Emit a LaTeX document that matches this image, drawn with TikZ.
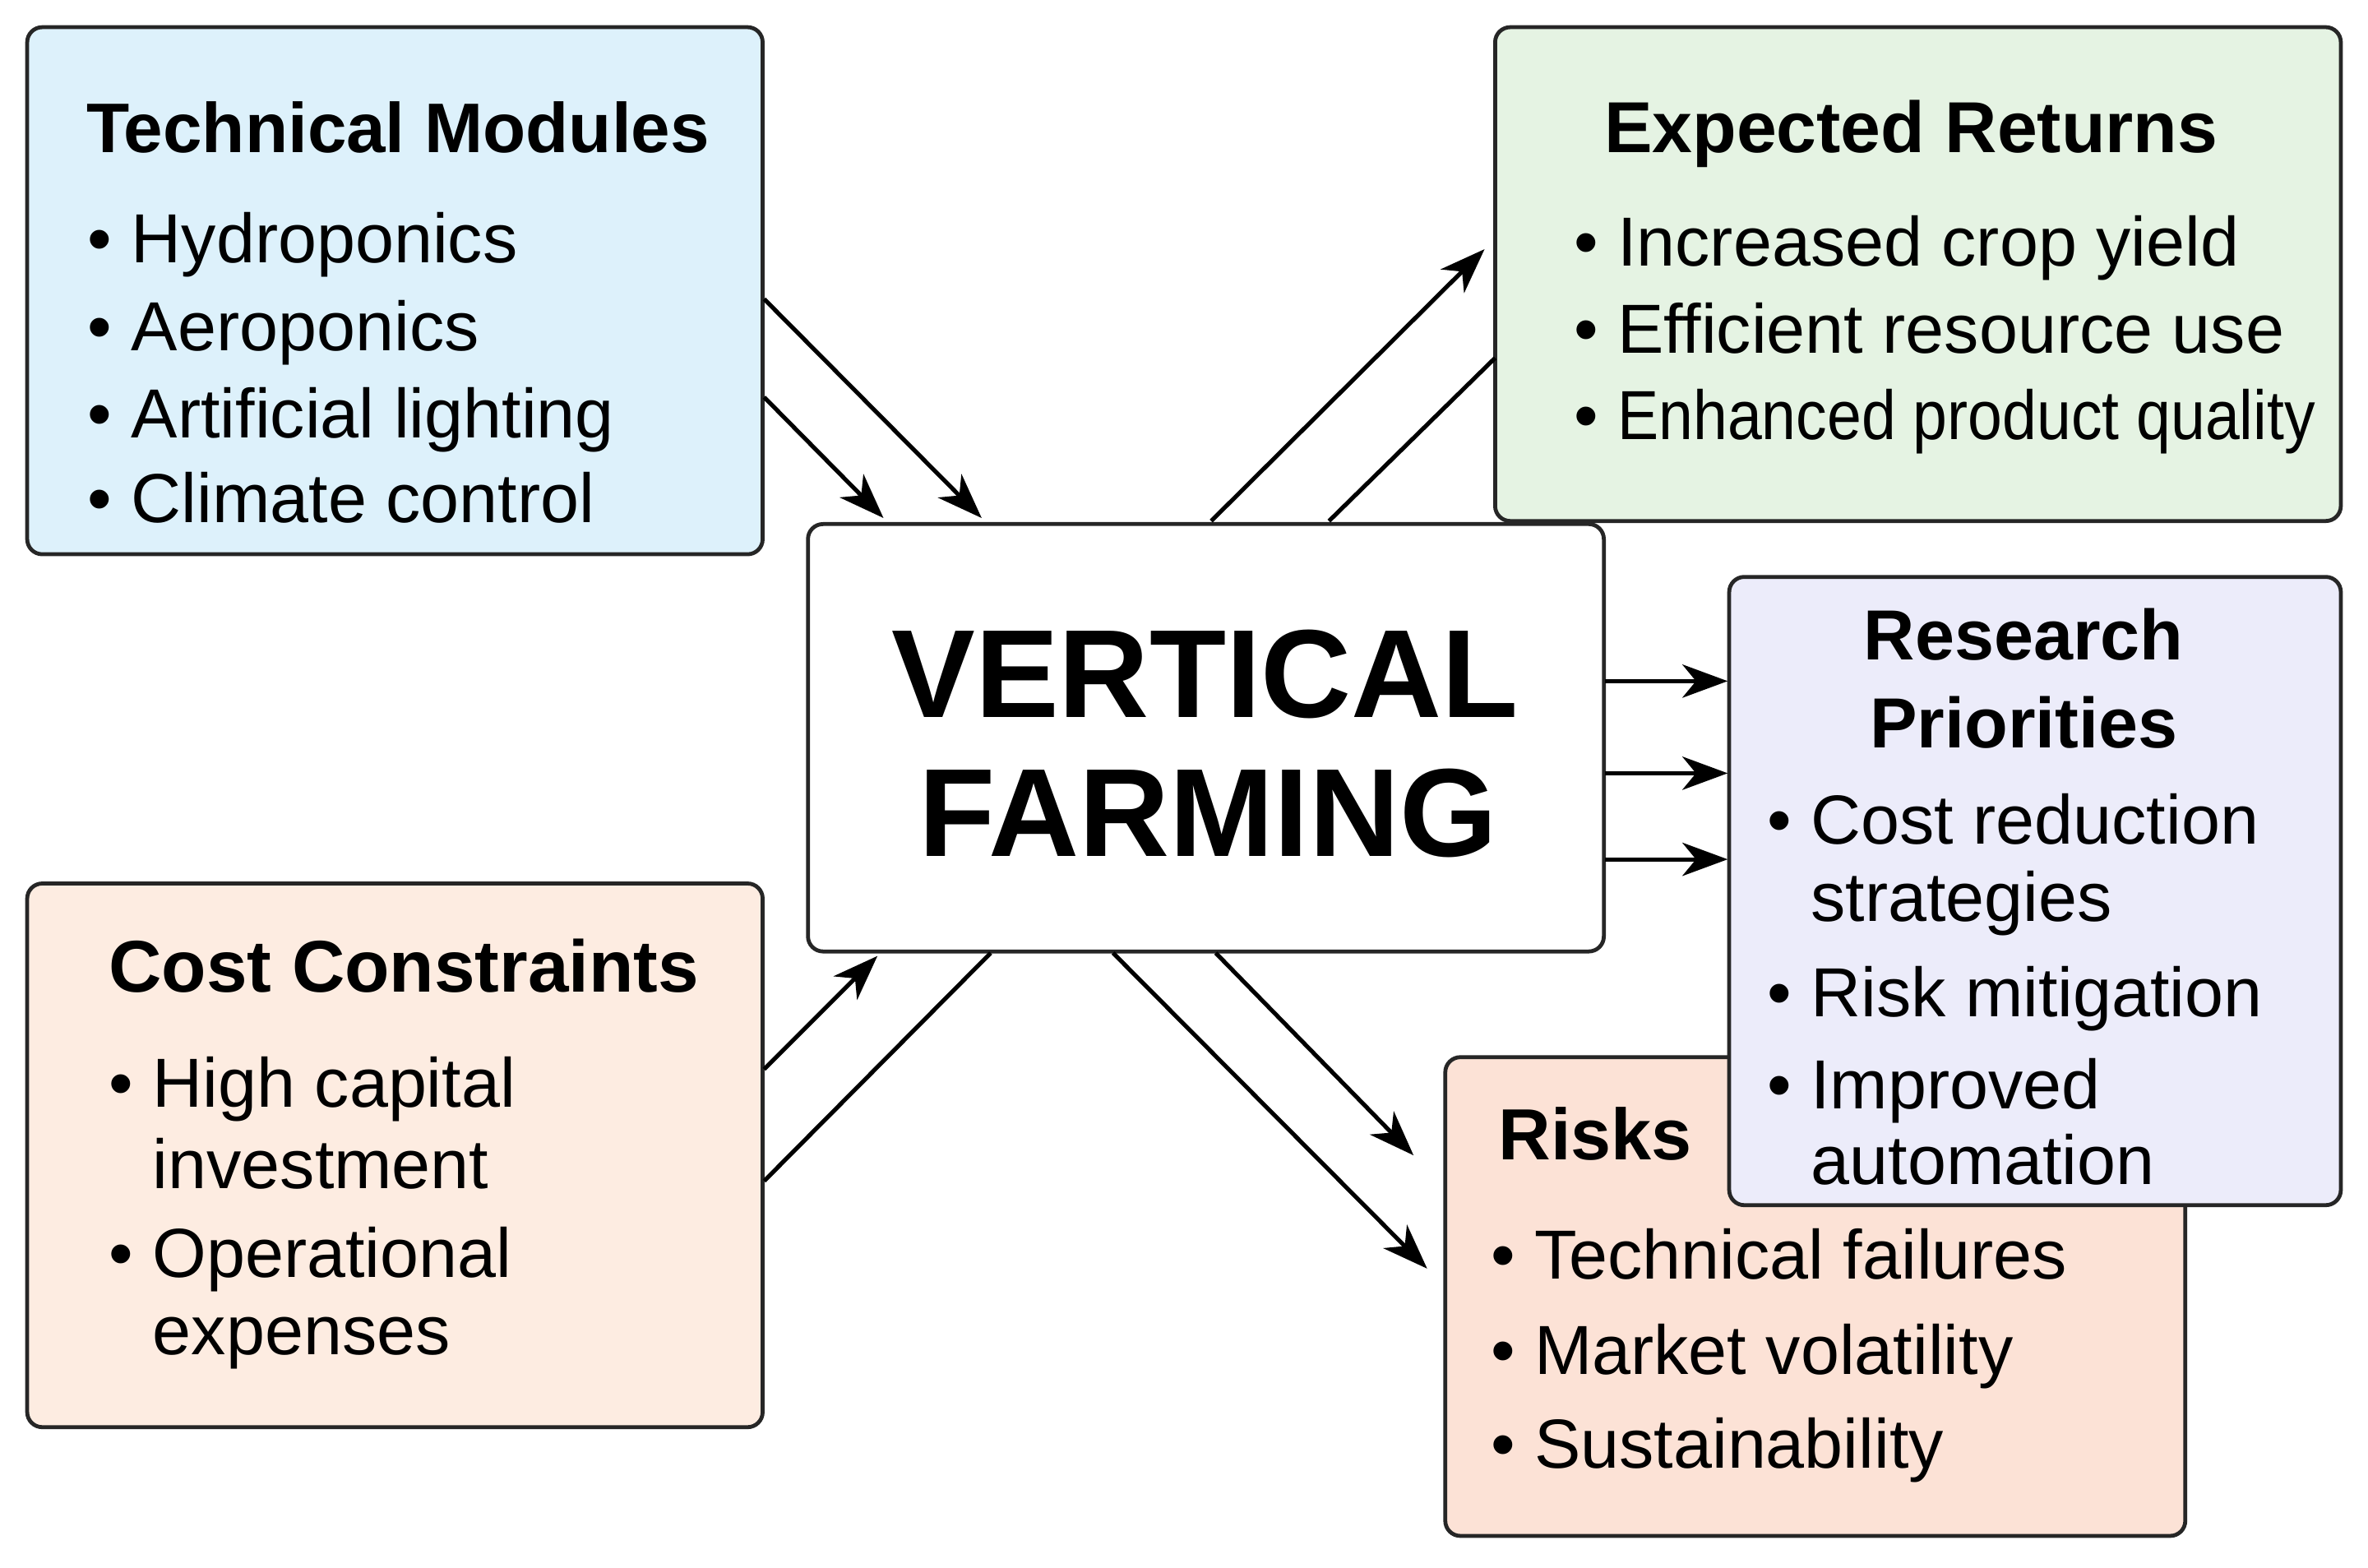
\documentclass[tikz,border=0pt]{standalone}
\usepackage{fontspec}
\setmainfont{Liberation Sans}
\usetikzlibrary{arrows.meta}
\definecolor{cTech}{HTML}{DDF1FB}
\definecolor{cRet}{HTML}{E5F3E3}
\definecolor{cRes}{HTML}{ECECFA}
\definecolor{cCost}{HTML}{FDECE1}
\definecolor{cRisk}{HTML}{FCE2D6}
\newcommand{\bodyfont}{\fontsize{46}{46}\selectfont}
\newcommand{\ttl}[1]{\fontsize{#1}{#1}\selectfont\bfseries}
\tikzset{
  panel/.style={draw=black!85, line width=2.6pt, rounded corners=10pt},
  txt/.style={anchor=base west, inner sep=0pt, font=\bodyfont},
  ctxt/.style={anchor=base, inner sep=0pt},
  conn/.style={line width=2.8pt, draw=black},
  arr/.style={conn, -{Stealth[length=30pt,width=22pt,inset=9pt]}},
}
\begin{document}
\begin{tikzpicture}[x=1pt,y=-1pt]
\useasboundingbox[fill=white] (0,0) rectangle (1568,1038);
% boxes
\draw[panel, fill=cTech] (18,18) rectangle (505,367);
\draw[panel, fill=cRet] (990,18) rectangle (1550,345);
\draw[panel, fill=white] (535,347) rectangle (1062,630);
\draw[panel, fill=cCost] (18,585) rectangle (505,945);
\draw[panel, fill=cRisk] (957,700) rectangle (1447,1017);
\draw[panel, fill=cRes] (1145,382) rectangle (1550,798);
% Technical modules
\node[txt, font=\ttl{46.5}] (tT) at (57,101) {Technical Modules};
\node[txt] (t1) at (58,174) {\textbullet\ Hydroponics};
\node[txt] (t2) at (58,232) {\textbullet\ Aeroponics};
\node[txt] (t3) at (58,290) {\textbullet\ Artificial lighting};
\node[txt] (t4) at (58,346) {\textbullet\ Climate control};
% Expected returns
\node[txt, font=\ttl{47.8}] (rT) at (1062,101) {Expected Returns};
\node[txt] (r1) at (1042,176) {\textbullet\ Increased crop yield};
\node[txt] (r2) at (1042,234) {\textbullet\ Efficient resource use};
\node[txt] (r3) at (1042,291) {\textbullet\ \scalebox{0.89}[1]{Enhanced product quality}};
% Center
\node[ctxt, font=\ttl{83}] (vc1) at (798,475) {VERTICAL};
\node[ctxt, font=\ttl{83}] (vc2) at (800,567) {FARMING};
% Research priorities
\node[ctxt, font=\ttl{47}] (sT1) at (1340,437) {Research};
\node[ctxt, font=\ttl{47}] (sT2) at (1340,495) {Priorities};
\node[txt] (s1) at (1170,559) {\textbullet\ Cost reduction};
\node[txt] (s1b) at (1199,610) {strategies};
\node[txt] (s2) at (1170,673) {\textbullet\ Risk mitigation};
\node[txt] (s3) at (1170,734) {\textbullet\ Improved};
\node[txt] (s3b) at (1199,784) {automation};
% Risks
\node[txt, font=\ttl{48}] (kT) at (992,768) {Risks};
\node[txt] (k1) at (987,847) {\textbullet\ Technical failures};
\node[txt] (k2) at (987,910) {\textbullet\ Market volatility};
\node[txt] (k3) at (987,972) {\textbullet\ Sustainability};
% Cost constraints
\node[txt, font=\ttl{48.5}] (cT) at (72,657) {Cost Constraints};
\node[txt] (c1) at (72,733) {\textbullet\ High capital};
\node[txt] (c1b) at (101,787) {investment};
\node[txt] (c2) at (72,846) {\textbullet\ Operational};
\node[txt] (c2b) at (101,897) {expenses};
% connector end points
\coordinate (a1s) at (506,198); \coordinate (a1e) at (650,343);
\coordinate (a2s) at (506,263); \coordinate (a2e) at (585,343);
\coordinate (a3s) at (802,345); \coordinate (a3e) at (983,165);
\coordinate (a4s) at (880,345); \coordinate (a4e) at (990,237);
\coordinate (a5s) at (506,708); \coordinate (a5e) at (581,633);
\coordinate (a6s) at (506,782); \coordinate (a6e) at (656,631);
\coordinate (a7s) at (737,631); \coordinate (a7e) at (945,840);
\coordinate (a8s) at (805,631); \coordinate (a8e) at (936,765);
\coordinate (h1s) at (1063,451); \coordinate (h1e) at (1144,451);
\coordinate (h2s) at (1063,512); \coordinate (h2e) at (1144,512);
\coordinate (h3s) at (1063,569); \coordinate (h3e) at (1144,569);
% connectors
\draw[arr] (a1s) -- (a1e);
\draw[arr] (a2s) -- (a2e);
\draw[arr] (a3s) -- (a3e);
\draw[conn] (a4s) -- (a4e);
\draw[arr] (a5s) -- (a5e);
\draw[conn] (a6s) -- (a6e);
\draw[arr] (a7s) -- (a7e);
\draw[arr] (a8s) -- (a8e);
\draw[arr] (h1s) -- (h1e);
\draw[arr] (h2s) -- (h2e);
\draw[arr] (h3s) -- (h3e);
\end{tikzpicture}
\end{document}
